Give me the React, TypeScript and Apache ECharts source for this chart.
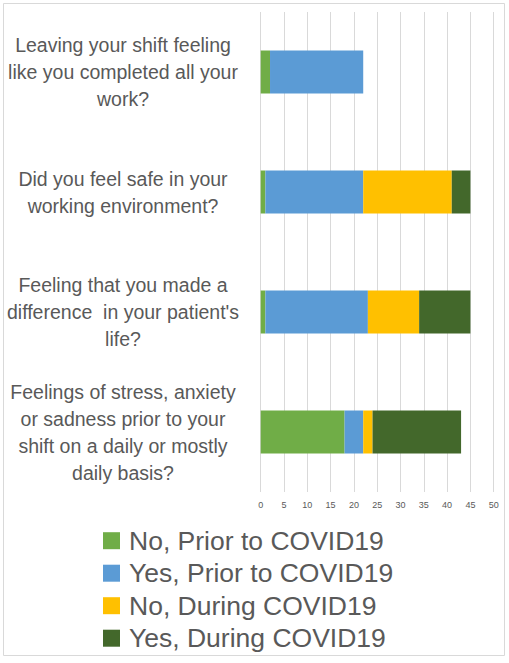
import React, { useEffect, useRef } from "react";
import * as echarts from "echarts";

const categories: string[] = [
  "Leaving your shift feeling\nlike you completed all your\nwork?",
  "Did you feel safe in your\nworking environment?",
  "Feeling that you made a\ndifference  in your patient's\nlife?",
  "Feelings of stress, anxiety\nor sadness prior to your\nshift on a daily or mostly\ndaily basis?",
];

const seriesNames: string[] = [
  "No, Prior to COVID19",
  "Yes, Prior to COVID19",
  "No, During COVID19",
  "Yes, During COVID19",
];

const noPrior: number[] = [2, 1, 1, 18];
const yesPrior: number[] = [20, 21, 22, 4];
const noDuring: number[] = [0, 19, 11, 2];
const yesDuring: number[] = [0, 4, 11, 19];

const colors: string[] = ["#70AD47", "#5B9BD5", "#FFC000", "#43682B"];

export default function App() {
  const ref = useRef<HTMLDivElement>(null);
  useEffect(() => {
    if (!ref.current) return;
    const chart = echarts.init(ref.current, undefined, { renderer: "svg" });
    const values = [noPrior, yesPrior, noDuring, yesDuring];
    chart.setOption({
      animation: false,
      backgroundColor: "#ffffff",
      textStyle: { fontFamily: "Liberation Sans" },
      graphic: [
        {
          type: "rect",
          shape: { x: 3.5, y: 3.5, width: 501, height: 652 },
          style: { fill: "none", stroke: "#d9d9d9", lineWidth: 1 },
          silent: true,
        },
      ],
      grid: { left: 260.7, right: 15.3, top: 12, height: 480, containLabel: false },
      xAxis: {
        type: "value",
        min: 0,
        max: 50,
        interval: 5,
        axisLine: { show: false },
        axisTick: { show: false },
        splitLine: { show: true, lineStyle: { color: "#d9d9d9", width: 1 } },
        axisLabel: { color: "#595959", fontSize: 9, margin: 8 },
      },
      yAxis: {
        type: "category",
        inverse: true,
        data: categories,
        axisLine: { show: false },
        axisTick: { show: false },
        axisLabel: {
          color: "#595959",
          fontSize: 19.5,
          lineHeight: 27,
          align: "center",
          margin: 137.7,
        },
      },
      legend: {
        orient: "vertical",
        left: 103,
        top: 524.7,
        bottom: 0,
        padding: 0,
        itemWidth: 17,
        itemHeight: 17,
        itemGap: 0.5,
        icon: "rect",
        data: seriesNames,
        textStyle: { color: "#595959", fontSize: 26.5, lineHeight: 32, padding: [0, 0, 0, 4] },
      },
      series: seriesNames.map((name, i) => ({
        name,
        type: "bar",
        stack: "total",
        barWidth: 43,
        itemStyle: { color: colors[i] },
        data: values[i],
      })),
    });
    return () => chart.dispose();
  }, []);
  return (
    <div
      ref={ref}
      style={{ position: "fixed", left: 0, top: 0, width: 509, height: 663 }}
    />
  );
}
